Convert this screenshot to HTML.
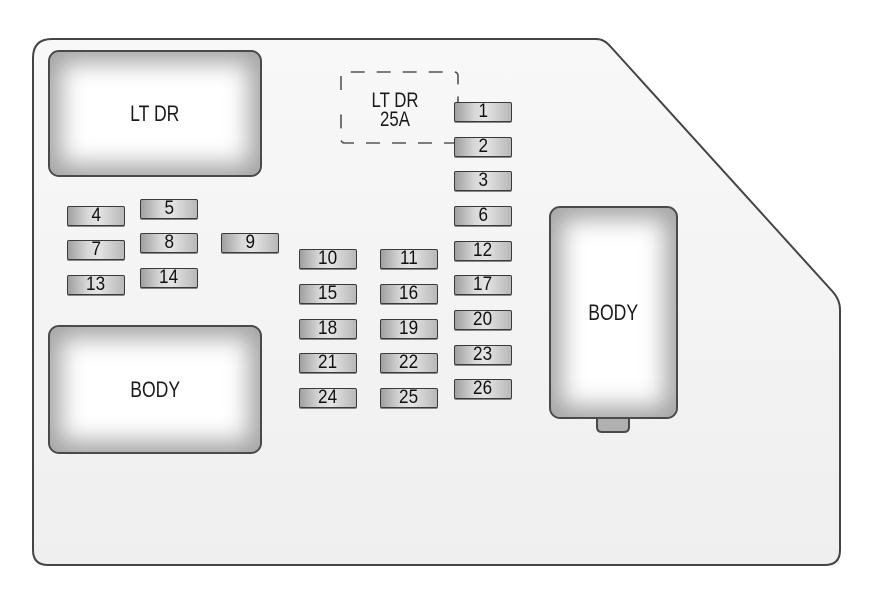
<!DOCTYPE html>
<html><head><meta charset="utf-8"><style>
html,body{margin:0;padding:0;background:#fff;}
#c{position:relative;width:891px;height:595px;overflow:hidden;background:#fff;}
svg{position:absolute;left:0;top:0;}
.relay{position:absolute;box-sizing:border-box;border:2px solid #4a4a4a;border-radius:11px;background:#fff;box-shadow:inset 0 0 24px 11px #a4a4a4;display:flex;align-items:center;justify-content:center;font-family:"Liberation Sans",sans-serif;font-size:22px;color:#1a1a1a;}
.relay span{display:inline-block;transform:scaleX(0.8);}
.f{position:absolute;box-sizing:border-box;width:58px;height:20px;border:1.5px solid #3a3a3a;border-radius:2px;background:linear-gradient(to right,#a0a0a0 0%,#d8d8d8 35%,#e4e4e4 55%,#b8b8b8 100%);box-shadow:0 1px 0 #888;font-family:"Liberation Sans",sans-serif;font-size:19px;line-height:18px;text-align:center;color:#111;}
.f span{display:inline-block;transform:scaleX(0.9);}
.lbl{position:absolute;font-family:"Liberation Sans",sans-serif;font-size:21px;line-height:19px;text-align:center;color:#1a1a1a;transform:scaleX(0.8);}
</style></head><body><div id="c">
<svg width="891" height="595">
<defs><linearGradient id="bg" x1="0" y1="0" x2="0" y2="1"><stop offset="0" stop-color="#f8f8f8"/><stop offset="1" stop-color="#efefef"/></linearGradient></defs>
<path d="M52,39 L596,39 Q604,39 610,46 L833,292 Q840,300 840,310 L840,550 Q840,565 825,565 L48,565 Q33,565 33,550 L33,58 Q33,39 52,39 Z" fill="url(#bg)" stroke="#444" stroke-width="2"/>
<path d="M341,90 V76 Q341,72 345,72 H454 Q458,72 458,76 V120 M458,143 H345 Q341,143 341,139 V110" fill="none" stroke="#555" stroke-width="1.6" stroke-dasharray="14,12"/>
<path d="M597,415 V427 Q597,432 602,432 H624 Q629,432 629,427 V415" fill="#b0b0b0" stroke="#4a4a4a" stroke-width="2"/>
</svg>
<div class="relay" style="left:48px;top:50px;width:214px;height:127px;"><span>LT DR</span></div>
<div class="relay" style="left:48px;top:325px;width:214px;height:129px;"><span>BODY</span></div>
<div class="relay" style="left:549px;top:206px;width:129px;height:213px;"><span>BODY</span></div>
<div class="lbl" style="left:350px;top:91px;width:90px;">LT DR<br>25A</div>
<div class="f" style="left:67px;top:206px"><span>4</span></div>
<div class="f" style="left:140px;top:199px"><span>5</span></div>
<div class="f" style="left:67px;top:240px"><span>7</span></div>
<div class="f" style="left:140px;top:233px"><span>8</span></div>
<div class="f" style="left:221px;top:233px"><span>9</span></div>
<div class="f" style="left:67px;top:275px"><span>13</span></div>
<div class="f" style="left:140px;top:268px"><span>14</span></div>
<div class="f" style="left:299px;top:249px"><span>10</span></div>
<div class="f" style="left:380px;top:249px"><span>11</span></div>
<div class="f" style="left:299px;top:284px"><span>15</span></div>
<div class="f" style="left:380px;top:284px"><span>16</span></div>
<div class="f" style="left:299px;top:319px"><span>18</span></div>
<div class="f" style="left:380px;top:319px"><span>19</span></div>
<div class="f" style="left:299px;top:353px"><span>21</span></div>
<div class="f" style="left:380px;top:353px"><span>22</span></div>
<div class="f" style="left:299px;top:388px"><span>24</span></div>
<div class="f" style="left:380px;top:388px"><span>25</span></div>
<div class="f" style="left:454px;top:102px"><span>1</span></div>
<div class="f" style="left:454px;top:137px"><span>2</span></div>
<div class="f" style="left:454px;top:171px"><span>3</span></div>
<div class="f" style="left:454px;top:206px"><span>6</span></div>
<div class="f" style="left:454px;top:241px"><span>12</span></div>
<div class="f" style="left:454px;top:275px"><span>17</span></div>
<div class="f" style="left:454px;top:310px"><span>20</span></div>
<div class="f" style="left:454px;top:345px"><span>23</span></div>
<div class="f" style="left:454px;top:379px"><span>26</span></div>
</div></body></html>
